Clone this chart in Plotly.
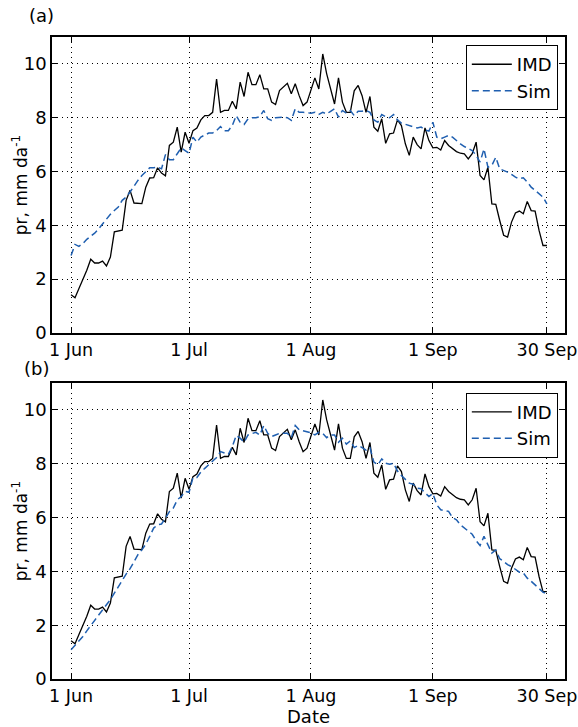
import plotly.graph_objects as go

# Day index 0 = 1 Jun, 121 = 30 Sep
days = list(range(122))

tick_days = [0, 30, 61, 92, 121]
tick_labels = ["1 Jun", "1 Jul", "1 Aug", "1 Sep", "30 Sep"]
y_ticks = [0, 2, 4, 6, 8, 10]

# Observed daily precipitation (mm/day)
imd = [
    1.42, 1.31, 1.65, 1.98, 2.33, 2.74, 2.60, 2.60, 2.67, 2.49, 2.82, 3.76, 3.79, 3.82, 4.93, 5.30,
    4.83, 4.83, 4.81, 5.42, 5.76, 5.77, 6.14, 5.94, 5.84, 6.97, 7.09, 7.65, 6.72, 7.46, 7.05,
    7.52, 7.62, 7.92, 8.08, 8.08, 8.20, 9.44, 8.20, 8.27, 8.27, 8.61, 8.33, 9.32, 8.79, 9.69, 9.23,
    9.23, 9.60, 9.07, 9.07, 8.58, 8.49, 9.01, 9.16, 9.28, 8.89, 9.26, 8.82, 8.45, 8.58, 9.05,
    9.48, 9.07, 10.37, 9.63, 9.07, 8.51, 9.48, 8.58, 8.20, 8.20, 9.00, 9.20, 8.82, 8.20, 8.79, 7.65,
    7.50, 7.96, 7.05, 7.40, 7.43, 7.92, 7.71, 7.03, 6.60, 7.28, 7.00, 6.84, 7.62, 7.15, 6.88,
    6.90, 6.80, 7.15, 6.97, 6.84, 6.74, 6.68, 6.66, 6.47, 6.66, 7.09, 5.85, 5.69, 6.16, 4.80, 4.78,
    4.18, 3.63, 3.56, 4.12, 4.46, 4.53, 4.43, 4.89, 4.55, 4.53, 3.81, 3.25, 3.25,
]

# Simulated precipitation, run (a)
sim_a = [
    2.88, 3.29, 3.22, 3.32, 3.48, 3.59, 3.71, 3.87, 4.06, 4.21, 4.41, 4.55, 4.68, 4.93, 5.05, 5.24,
    5.48, 5.67, 5.85, 5.98, 6.14, 6.14, 6.16, 6.10, 6.63, 6.44, 6.44, 6.66, 6.88, 6.78, 6.68,
    7.28, 7.09, 7.28, 7.34, 7.43, 7.43, 7.52, 7.67, 7.52, 7.52, 7.71, 8.08, 7.83, 7.75, 7.96, 8.00,
    8.00, 8.04, 8.27, 7.96, 7.90, 8.00, 8.02, 8.02, 8.00, 7.90, 8.33, 8.20, 8.20, 8.18, 8.17,
    8.20, 8.12, 8.20, 8.14, 8.24, 8.33, 8.02, 8.27, 8.17, 8.27, 8.08, 8.24, 8.24, 8.27, 8.20, 7.92,
    7.83, 8.12, 8.04, 8.00, 8.12, 7.92, 7.80, 7.75, 7.71, 7.65, 7.62, 7.65, 7.55, 7.50, 7.83,
    7.28, 7.22, 7.28, 7.34, 7.28, 7.15, 7.03, 6.93, 6.84, 6.78, 6.60, 6.35, 6.84, 6.16, 6.23, 6.53,
    6.10, 6.04, 5.98, 5.89, 5.79, 5.73, 5.77, 5.61, 5.42, 5.30, 5.17, 5.05, 4.80,
]

# Simulated precipitation, run (b)
sim_b = [
    1.09, 1.25, 1.40, 1.58, 1.79, 1.99, 2.20, 2.39, 2.57, 2.76, 2.95, 3.19, 3.44, 3.69, 3.90, 4.10,
    4.37, 4.62, 4.80, 5.01, 5.30, 5.61, 5.73, 5.76, 5.98, 6.22, 6.35, 6.66, 6.78, 6.97, 6.94,
    7.49, 7.49, 7.69, 7.83, 7.96, 8.11, 8.23, 8.45, 8.39, 8.35, 8.64, 9.05, 8.95, 8.80, 9.07, 9.13,
    9.17, 9.07, 9.42, 9.13, 9.01, 9.07, 9.13, 9.13, 9.13, 8.97, 9.42, 9.26, 9.22, 9.20, 9.15,
    9.07, 9.17, 9.13, 8.97, 9.07, 9.07, 8.80, 8.95, 8.73, 8.85, 8.60, 8.68, 8.60, 8.51, 8.60, 8.06,
    7.96, 8.18, 8.02, 7.98, 8.02, 7.73, 7.56, 7.40, 7.28, 7.24, 7.09, 7.07, 6.91, 6.78, 6.90,
    6.47, 6.29, 6.25, 6.23, 6.00, 5.92, 5.73, 5.61, 5.48, 5.38, 5.14, 4.96, 5.30, 5.01, 4.68, 4.80,
    4.47, 4.37, 4.25, 4.18, 4.06, 3.97, 3.94, 3.75, 3.63, 3.50, 3.35, 3.23, 3.16,
]

FONT = "DejaVu Sans"
BLUE = "#1f5fb0"

fig = go.Figure()

for sim, leg, xa, ya in [(sim_a, "legend", "x", "y"), (sim_b, "legend2", "x2", "y2")]:
    fig.add_trace(go.Scatter(
        x=days, y=imd, mode="lines", name="IMD",
        line=dict(color="black", width=1.3),
        xaxis=xa, yaxis=ya, legend=leg,
    ))
    fig.add_trace(go.Scatter(
        x=days, y=sim, mode="lines", name="Sim",
        line=dict(color=BLUE, width=1.5, dash="7px,4px"),
        xaxis=xa, yaxis=ya, legend=leg,
    ))

xcommon = dict(
    range=[-4.85, 125.6], tickvals=tick_days, ticktext=tick_labels,
    showgrid=True, gridcolor="black", griddash="1px,4px", gridwidth=1,
    showline=True, linecolor="black", linewidth=1.5, mirror="ticks",
    ticks="inside", ticklen=6, tickcolor="black", zeroline=False,
    automargin=False, ticklabeloverflow="allow",
    tickfont=dict(family=FONT, size=17.5, color="black"),
)
ycommon = dict(
    range=[0, 11], tickvals=y_ticks,
    showgrid=True, gridcolor="black", griddash="1px,4px", gridwidth=1,
    showline=True, linecolor="black", linewidth=1.5, mirror="ticks",
    ticks="inside", ticklen=6, tickcolor="black", zeroline=False,
    automargin=False, ticklabeloverflow="allow",
    tickfont=dict(family=FONT, size=18, color="black"),
)

legcommon = dict(
    xanchor="right", x=0.986, yanchor="top",
    bgcolor="white", bordercolor="black", borderwidth=1,
    font=dict(family=FONT, size=18, color="black"),
    itemwidth=40, tracegroupgap=0,
)

label_font = dict(family=FONT, size=18, color="black")
ytitle_font = dict(family=FONT, size=17, color="black")
ytitle = "pr, mm da<sup>-1</sup>"

fig.update_layout(
    width=578, height=727,
    margin=dict(l=52, r=13, t=37, b=48, autoexpand=False),
    paper_bgcolor="white", plot_bgcolor="white",
    showlegend=True,
    xaxis=dict(domain=[0, 1], anchor="y", **xcommon),
    yaxis=dict(domain=[0.539, 1], anchor="x", **ycommon),
    xaxis2=dict(domain=[0, 1], anchor="y2",
                title=dict(text="Date", font=dict(family=FONT, size=18, color="black"), standoff=6),
                **xcommon),
    yaxis2=dict(domain=[0, 0.461], anchor="x2", **ycommon),
    legend=dict(y=0.9875, **legcommon),
    legend2=dict(y=0.446, **legcommon),
    annotations=[
        dict(text="(a)", x=-0.02, y=1.034, xref="paper", yref="paper",
             xanchor="center", yanchor="middle", showarrow=False, font=label_font),
        dict(text="(b)", x=-0.031, y=0.483, xref="paper", yref="paper",
             xanchor="center", yanchor="middle", showarrow=False, font=label_font),
        dict(text=ytitle, x=-0.062, y=0.7695, xref="paper", yref="paper", textangle=-90,
             xanchor="center", yanchor="middle", showarrow=False, font=ytitle_font),
        dict(text=ytitle, x=-0.062, y=0.2305, xref="paper", yref="paper", textangle=-90,
             xanchor="center", yanchor="middle", showarrow=False, font=ytitle_font),
    ],
)

fig.write_html("out.html")
